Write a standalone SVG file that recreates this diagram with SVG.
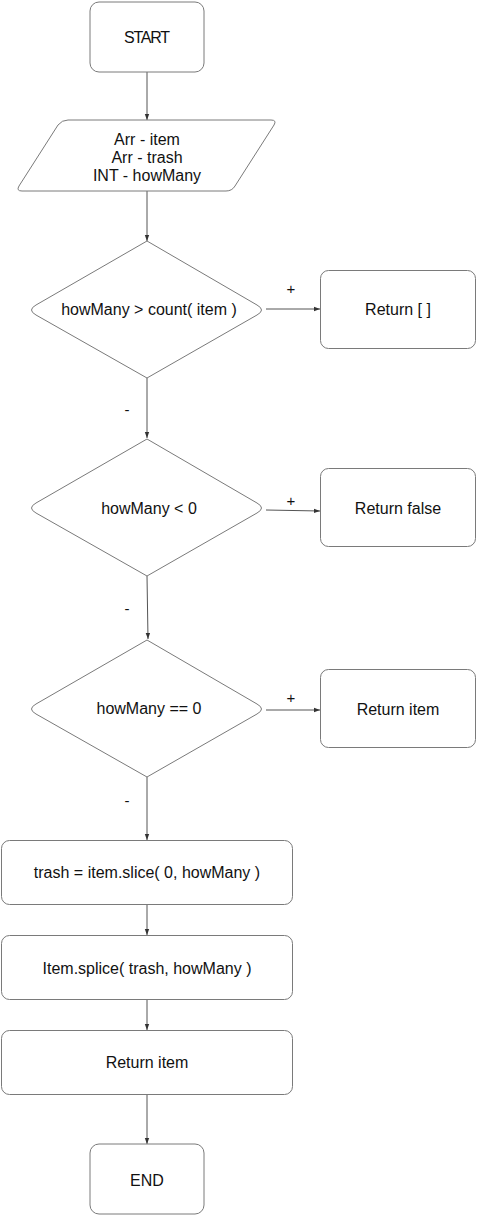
<svg xmlns="http://www.w3.org/2000/svg" width="477" height="1216" viewBox="0 0 477 1216">
<style>
.n{fill:#fff;stroke:#7a7a7a;stroke-width:1}
.t{font-family:"Liberation Sans",Arial,sans-serif;font-size:16px;fill:#111;text-anchor:middle;dominant-baseline:central}
.e{fill:none;stroke:#555;stroke-width:1;marker-end:url(#a)}
.l{font-family:"Liberation Sans",Arial,sans-serif;font-size:15px;fill:#111;text-anchor:middle;dominant-baseline:central}
</style>
<defs>
<marker id="a" viewBox="0 0 6 6" refX="6" refY="3" markerWidth="6" markerHeight="6" orient="auto" markerUnits="userSpaceOnUse">
<path d="M0,0.8 L6,3 L0,5.2 Z" fill="#333"/>
</marker>
</defs>
<rect width="477" height="1216" fill="#fff"/>
<g id="connectors">
<path class="e" d="M147,72 L147,120"/>
<path class="e" d="M147,191 L147,241"/>
<path class="e" d="M266,309 L320,309"/>
<path class="e" d="M147,378 L147,438"/>
<path class="e" d="M266,510 L320,511"/>
<path class="e" d="M147,576 L148,639"/>
<path class="e" d="M266,710 L320,710"/>
<path class="e" d="M147,777 L147,840"/>
<path class="e" d="M147,904 L147,935"/>
<path class="e" d="M147,999 L147,1030"/>
<path class="e" d="M147,1094 L147,1144"/>
<text class="l" x="291" y="288">+</text>
<text class="l" x="127" y="409">-</text>
<text class="l" x="291" y="500">+</text>
<text class="l" x="127" y="608">-</text>
<text class="l" x="291" y="697">+</text>
<text class="l" x="127" y="800">-</text>
</g>
<g id="start">
<rect class="n" x="90" y="2" width="114" height="70" rx="9"/>
<text class="t" x="147" y="37" textLength="46">START</text>
</g>
<g id="input">
<path class="n" d="M68,120 L271,120 Q277,120 274,125 L235,186 Q232,191 226,191 L22,191 Q16,191 19,186 L58,125 Q62,120 68,120 Z"/>
<text class="t" x="147" y="139">Arr - item</text>
<text class="t" x="147" y="157">Arr - trash</text>
<text class="t" x="147" y="175">INT - howMany</text>
</g>
<g id="cond1">
<path class="n" d="M147,241 L257,305 Q266,310 257,315 L147,378 L36,315 Q27,310 36,305 Z"/>
<text class="t" x="149" y="309">howMany &gt; count( item )</text>
</g>
<g id="ret1">
<rect class="n" x="320.5" y="270.5" width="155" height="78" rx="8"/>
<text class="t" x="398" y="309">Return [ ]</text>
</g>
<g id="cond2">
<path class="n" d="M147,439 L257,503 Q266,508 257,513 L147,576 L36,513 Q27,508 36,503 Z"/>
<text class="t" x="149" y="508">howMany &lt; 0</text>
</g>
<g id="ret2">
<rect class="n" x="320.5" y="468.5" width="155" height="78" rx="8"/>
<text class="t" x="398" y="508">Return false</text>
</g>
<g id="cond3">
<path class="n" d="M147,640 L257,704 Q266,709 257,714 L147,777 L36,714 Q27,709 36,704 Z"/>
<text class="t" x="149" y="708">howMany == 0</text>
</g>
<g id="ret3">
<rect class="n" x="320.5" y="669.5" width="155" height="78" rx="8"/>
<text class="t" x="398" y="709">Return item</text>
</g>
<g id="slice">
<rect class="n" x="1.5" y="840.5" width="291" height="64" rx="8"/>
<text class="t" x="147" y="872">trash = item.slice( 0, howMany )</text>
</g>
<g id="splice">
<rect class="n" x="1.5" y="935.5" width="291" height="64" rx="8"/>
<text class="t" x="147" y="968">Item.splice( trash, howMany )</text>
</g>
<g id="ret4">
<rect class="n" x="1.5" y="1030.5" width="291" height="64" rx="8"/>
<text class="t" x="147" y="1062">Return item</text>
</g>
<g id="end">
<rect class="n" x="90" y="1144" width="114" height="70" rx="9"/>
<text class="t" x="147" y="1180">END</text>
</g>
</svg>
